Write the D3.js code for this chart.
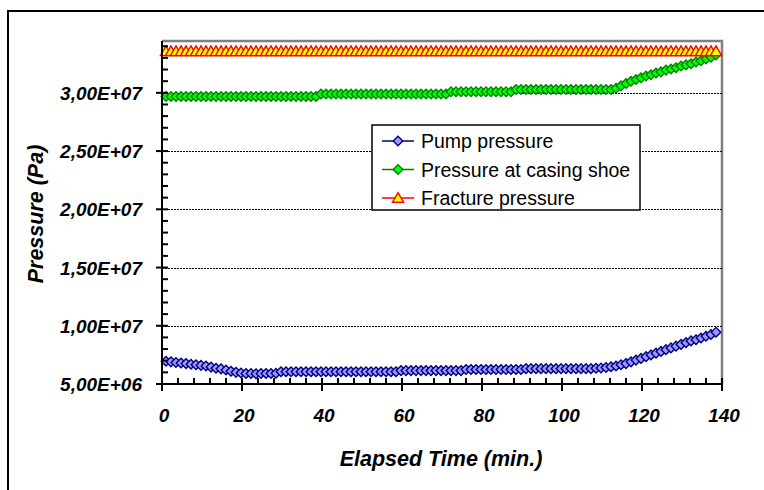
<!DOCTYPE html>
<html>
<head>
<meta charset="utf-8">
<script src="https://cdn.jsdelivr.net/npm/d3@7"></script>
<style>
  body { margin: 0; background: #fff; }
  svg { font-family: "Liberation Sans", Arial, sans-serif; }
</style>
</head>
<body>
<svg id="chart" width="764" height="490"></svg>
<script>
// elapsed time of each sample (min.)
const times = [
  1, 2.25, 3.5, 4.75, 6, 7.25, 8.5, 9.75, 11, 12.25,
  13.5, 14.75, 16, 17.25, 18.5, 19.75, 21, 22.25, 23.5, 24.75,
  26, 27.25, 28.5, 29.75, 31, 32.25, 33.5, 34.75, 36, 37.25,
  38.5, 39.75, 41, 42.25, 43.5, 44.75, 46, 47.25, 48.5, 49.75,
  51, 52.25, 53.5, 54.75, 56, 57.25, 58.5, 59.75, 61, 62.25,
  63.5, 64.75, 66, 67.25, 68.5, 69.75, 71, 72.25, 73.5, 74.75,
  76, 77.25, 78.5, 79.75, 81, 82.25, 83.5, 84.75, 86, 87.25,
  88.5, 89.75, 91, 92.25, 93.5, 94.75, 96, 97.25, 98.5, 99.75,
  101, 102.25, 103.5, 104.75, 106, 107.25, 108.5, 109.75, 111, 112.25,
  113.5, 114.75, 116, 117.25, 118.5, 119.75, 121, 122.25, 123.5, 124.75,
  126, 127.25, 128.5, 129.75, 131, 132.25, 133.5, 134.75, 136, 137.25,
  138.5
];

// pressures in MPa (x 1E6 Pa)
const pumpPressure = [
  6.95, 6.9, 6.85, 6.8, 6.75, 6.7, 6.65, 6.6, 6.55, 6.45,
  6.35, 6.3, 6.2, 6.1, 6.0, 5.95, 5.9, 5.9, 5.88, 5.9,
  5.9, 5.9, 5.92, 6.05, 6.05, 6.05, 6.05, 6.05, 6.05, 6.05,
  6.05, 6.05, 6.05, 6.05, 6.05, 6.05, 6.05, 6.05, 6.05, 6.05,
  6.05, 6.05, 6.05, 6.05, 6.05, 6.05, 6.05, 6.15, 6.15, 6.15,
  6.15, 6.15, 6.15, 6.15, 6.15, 6.15, 6.15, 6.15, 6.15, 6.15,
  6.25, 6.25, 6.25, 6.25, 6.25, 6.25, 6.25, 6.25, 6.25, 6.25,
  6.25, 6.25, 6.32, 6.32, 6.32, 6.32, 6.32, 6.32, 6.32, 6.32,
  6.32, 6.32, 6.32, 6.32, 6.32, 6.32, 6.35, 6.38, 6.42, 6.48,
  6.55, 6.65, 6.75, 6.9, 7.05, 7.2, 7.35, 7.5, 7.65, 7.8,
  7.95, 8.1, 8.25, 8.4, 8.55, 8.7, 8.8, 8.95, 9.1, 9.25,
  9.45
];

const casingShoePressure = [
  29.68, 29.68, 29.68, 29.68, 29.68, 29.68, 29.68, 29.68, 29.68, 29.68,
  29.68, 29.68, 29.68, 29.68, 29.68, 29.68, 29.68, 29.68, 29.68, 29.68,
  29.68, 29.68, 29.68, 29.68, 29.68, 29.68, 29.68, 29.68, 29.68, 29.68,
  29.68, 29.9, 29.9, 29.9, 29.9, 29.9, 29.9, 29.9, 29.9, 29.9,
  29.9, 29.9, 29.9, 29.9, 29.9, 29.9, 29.9, 29.9, 29.9, 29.9,
  29.9, 29.9, 29.9, 29.9, 29.9, 29.9, 29.9, 30.1, 30.1, 30.1,
  30.1, 30.1, 30.1, 30.1, 30.1, 30.1, 30.1, 30.1, 30.1, 30.1,
  30.28, 30.28, 30.28, 30.28, 30.28, 30.28, 30.28, 30.28, 30.28, 30.28,
  30.28, 30.28, 30.28, 30.28, 30.28, 30.28, 30.28, 30.28, 30.28, 30.28,
  30.4, 30.6, 30.8, 31.0, 31.15, 31.3, 31.45, 31.55, 31.7, 31.8,
  31.95, 32.05, 32.15, 32.3, 32.4, 32.5, 32.65, 32.75, 32.9, 33.05,
  33.25
];

const fracturePressure = [
  33.56, 33.56, 33.56, 33.56, 33.56, 33.56, 33.56, 33.56, 33.56, 33.56,
  33.56, 33.56, 33.56, 33.56, 33.56, 33.56, 33.56, 33.56, 33.56, 33.56,
  33.56, 33.56, 33.56, 33.56, 33.56, 33.56, 33.56, 33.56, 33.56, 33.56,
  33.56, 33.56, 33.56, 33.56, 33.56, 33.56, 33.56, 33.56, 33.56, 33.56,
  33.56, 33.56, 33.56, 33.56, 33.56, 33.56, 33.56, 33.56, 33.56, 33.56,
  33.56, 33.56, 33.56, 33.56, 33.56, 33.56, 33.56, 33.56, 33.56, 33.56,
  33.56, 33.56, 33.56, 33.56, 33.56, 33.56, 33.56, 33.56, 33.56, 33.56,
  33.56, 33.56, 33.56, 33.56, 33.56, 33.56, 33.56, 33.56, 33.56, 33.56,
  33.56, 33.56, 33.56, 33.56, 33.56, 33.56, 33.56, 33.56, 33.56, 33.56,
  33.56, 33.56, 33.56, 33.56, 33.56, 33.56, 33.56, 33.56, 33.56, 33.56,
  33.56, 33.56, 33.56, 33.56, 33.56, 33.56, 33.56, 33.56, 33.56, 33.56,
  33.56
];

const xTicks = [0, 20, 40, 60, 80, 100, 120, 140];
const yTicks = [5, 10, 15, 20, 25, 30];
const yTickLabels = ["5,00E+06", "1,00E+07", "1,50E+07", "2,00E+07", "2,50E+07", "3,00E+07"];

const seriesNames = ["Pump pressure", "Pressure at casing shoe", "Fracture pressure"];

const svg = d3.select("#chart");

// outer chart frame
svg.append("rect")
  .attr("x", 8).attr("y", 11)
  .attr("width", 800).attr("height", 520)
  .attr("fill", "#fff")
  .attr("stroke", "#000")
  .attr("stroke-width", 2);

const margin = { top: 41, left: 162, right: 722, bottom: 384 };

const x = d3.scaleLinear().domain([0, 140]).range([margin.left, margin.right]);
const y = d3.scaleLinear().domain([5, 34.45]).range([margin.bottom, margin.top]);

// plot area border (grey top & right)
svg.append("path")
  .attr("d", `M${margin.left},${margin.top}H${margin.right}V${margin.bottom}`)
  .attr("fill", "none")
  .attr("stroke", "#808080")
  .attr("stroke-width", 2.5);

// dashed gridlines
svg.append("g")
  .selectAll("line")
  .data(yTicks.slice(1))
  .join("line")
  .attr("x1", margin.left).attr("x2", margin.right)
  .attr("y1", (d) => Math.round(y(d)) + 0.5).attr("y2", (d) => Math.round(y(d)) + 0.5)
  .attr("stroke", "#000")
  .attr("stroke-width", 1)
  .attr("stroke-dasharray", "2,1");

// series
const series = [
  { name: seriesNames[0], values: pumpPressure, line: "#000080", fill: "#9999FF", stroke: "#000080", symbol: "diamond" },
  { name: seriesNames[1], values: casingShoePressure, line: "#008000", fill: "#00FF00", stroke: "#008000", symbol: "diamond" },
  { name: seriesNames[2], values: fracturePressure, line: "#FF0000", fill: "#FFFF00", stroke: "#FF0000", symbol: "triangle" }
];

const diamond = d3.symbol().type(d3.symbolSquare).size(46);
const triangle = d3.symbol().type(d3.symbolTriangle).size(54);

function marker(g, s) {
  if (s.symbol === "diamond") {
    g.append("path").attr("d", diamond()).attr("transform", "rotate(45)");
  } else {
    g.append("path").attr("d", triangle()).attr("transform", "translate(0,1)");
  }
  g.selectAll("path")
    .attr("fill", s.fill)
    .attr("stroke", s.stroke)
    .attr("stroke-width", 1.4);
}

const lineGen = d3.line()
  .x((d) => x(d[0]))
  .y((d) => y(d[1]));

series.forEach((s) => {
  const pts = times.map((t, i) => [t, s.values[i]]);
  const g = svg.append("g");
  g.append("path")
    .attr("d", lineGen(pts))
    .attr("fill", "none")
    .attr("stroke", s.line)
    .attr("stroke-width", 1.5);
  g.selectAll("g.pt")
    .data(pts)
    .join("g")
    .attr("class", "pt")
    .attr("transform", (d) => `translate(${x(d[0])},${y(d[1])})`)
    .each(function () { marker(d3.select(this), s); });
});

// axes
const axisG = svg.append("g").attr("stroke", "#000").attr("stroke-width", 2);
axisG.append("line")
  .attr("x1", margin.left).attr("x2", margin.left)
  .attr("y1", margin.top).attr("y2", margin.bottom);
axisG.append("line")
  .attr("x1", margin.left).attr("x2", margin.right + 1)
  .attr("y1", margin.bottom).attr("y2", margin.bottom);

// y minor ticks (inside) and major ticks (cross)
const yMinor = d3.range(5, 34.5, 1).filter((v) => v % 5 !== 0);
axisG.selectAll("line.ymin")
  .data(yMinor)
  .join("line")
  .attr("class", "ymin")
  .attr("x1", margin.left).attr("x2", margin.left + 6)
  .attr("y1", (d) => y(d)).attr("y2", (d) => y(d));
axisG.selectAll("line.ymaj")
  .data(yTicks)
  .join("line")
  .attr("class", "ymaj")
  .attr("x1", margin.left - 6).attr("x2", margin.left + 6)
  .attr("y1", (d) => y(d)).attr("y2", (d) => y(d));

const xMinor = d3.range(0, 141, 4).filter((v) => v % 20 !== 0);
axisG.selectAll("line.xmin")
  .data(xMinor)
  .join("line")
  .attr("class", "xmin")
  .attr("x1", (d) => x(d)).attr("x2", (d) => x(d))
  .attr("y1", margin.bottom - 6).attr("y2", margin.bottom);
axisG.selectAll("line.xmaj")
  .data(xTicks)
  .join("line")
  .attr("class", "xmaj")
  .attr("x1", (d) => x(d)).attr("x2", (d) => x(d))
  .attr("y1", margin.bottom - 6).attr("y2", margin.bottom + 7);

// tick labels
svg.append("g")
  .selectAll("text")
  .data(yTicks)
  .join("text")
  .attr("x", 142)
  .attr("y", (d) => y(d) + 7)
  .attr("text-anchor", "end")
  .attr("font-size", 19)
  .attr("font-weight", "bold")
  .attr("font-style", "italic")
  .text((d, i) => yTickLabels[i]);

svg.append("g")
  .selectAll("text")
  .data(xTicks)
  .join("text")
  .attr("x", (d) => x(d) + 2)
  .attr("y", 422)
  .attr("text-anchor", "middle")
  .attr("font-size", 19)
  .attr("font-weight", "bold")
  .attr("font-style", "italic")
  .text((d) => d);

// axis titles
svg.append("text")
  .attr("x", 441).attr("y", 466)
  .attr("text-anchor", "middle")
  .attr("font-size", 21.5)
  .attr("font-weight", "bold")
  .attr("font-style", "italic")
  .text("Elapsed Time (min.)");

svg.append("text")
  .attr("transform", "translate(43,214) rotate(-90)")
  .attr("text-anchor", "middle")
  .attr("font-size", 21.5)
  .attr("font-weight", "bold")
  .attr("font-style", "italic")
  .text("Pressure (Pa)");

// legend
const legend = svg.append("g").attr("transform", "translate(372,125)");
legend.append("rect")
  .attr("width", 268).attr("height", 85)
  .attr("fill", "#fff")
  .attr("stroke", "#000")
  .attr("stroke-width", 1.5);
series.forEach((s, i) => {
  const row = legend.append("g").attr("transform", `translate(0,${16 + i * 28.5})`);
  row.append("line")
    .attr("x1", 10).attr("x2", 42)
    .attr("stroke", s.line).attr("stroke-width", 1.5);
  const m = row.append("g").attr("transform", "translate(26,0)");
  marker(m, s);
  row.append("text")
    .attr("x", 49).attr("y", 7)
    .attr("font-size", 19.5)
    .text(s.name);
});
</script>
</body>
</html>
